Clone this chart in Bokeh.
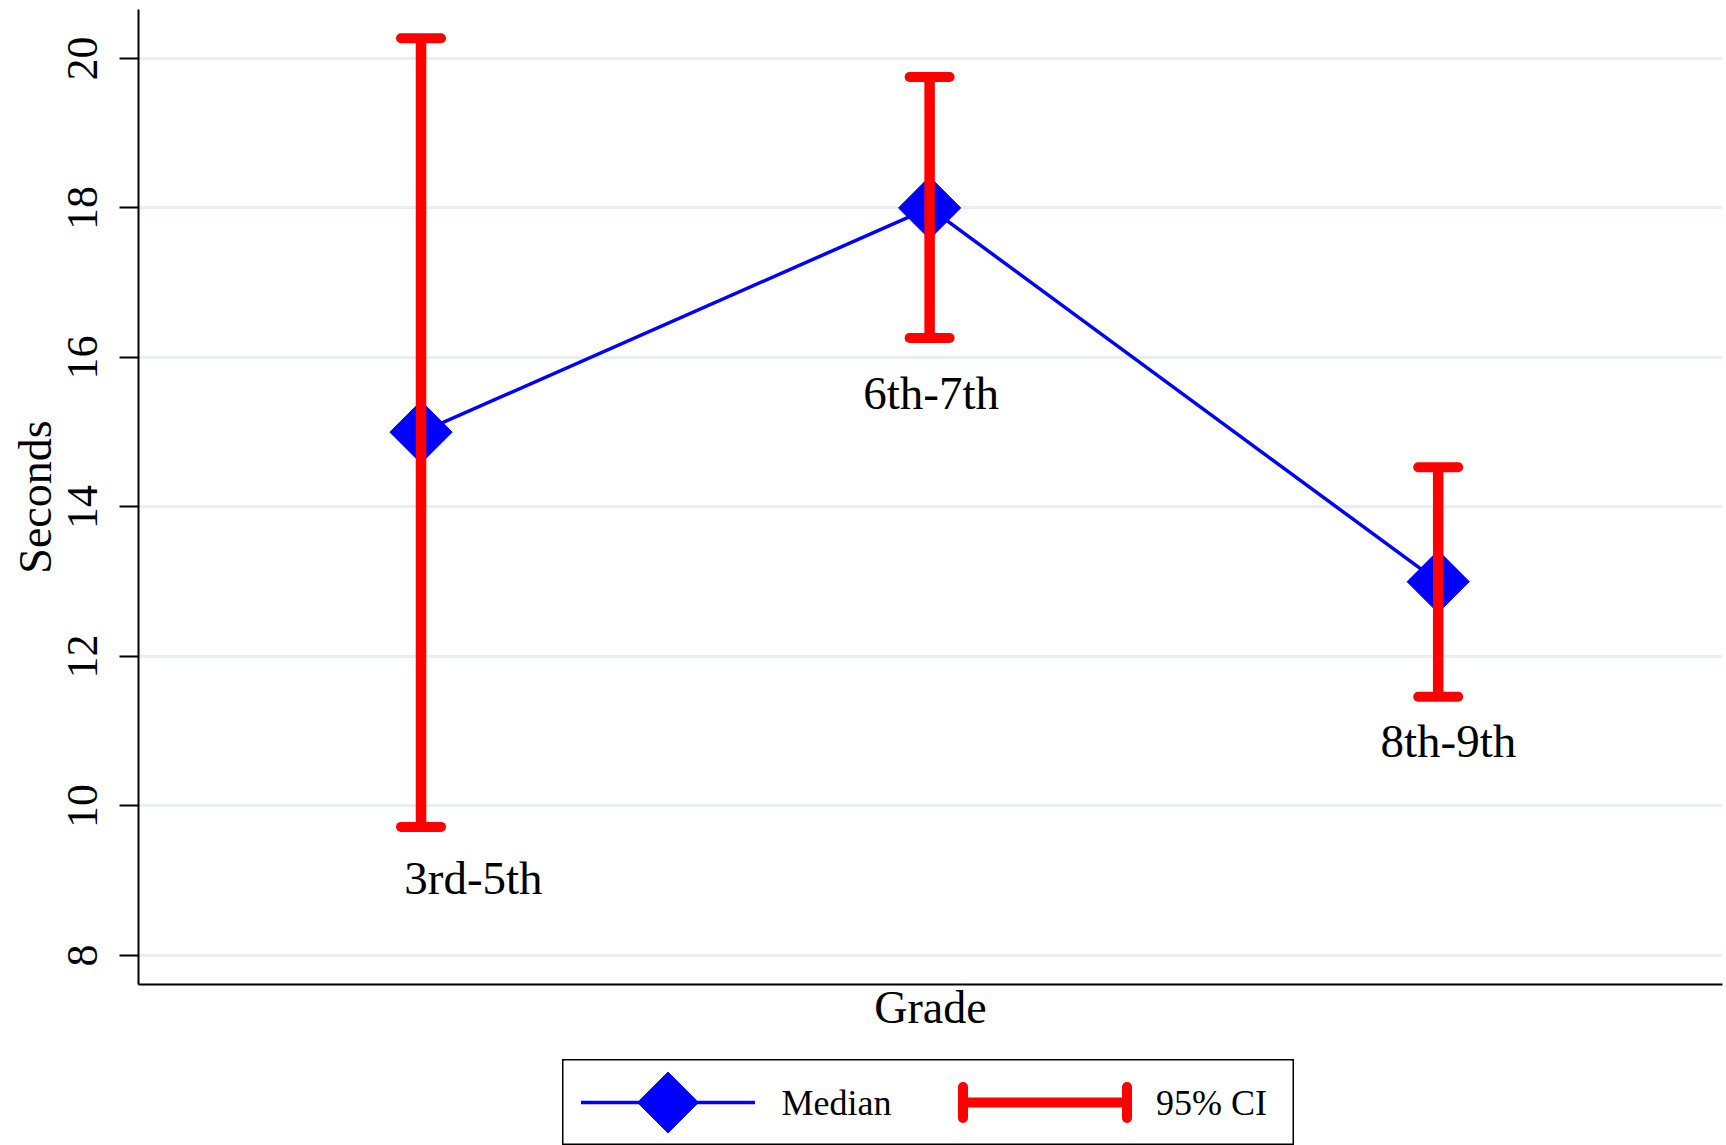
import numpy as np
from bokeh.plotting import figure
from bokeh.models import ColumnDataSource, FixedTicker, Whisker, TeeHead, Spacer
from bokeh.layouts import column, row
from bokeh.core.properties import value
from bokeh.embed import file_html
from bokeh.resources import INLINE

# ---- data ----
grades = ["3rd-5th", "6th-7th", "8th-9th"]
grade_pos = [1, 2, 3]
median = [15.0, 18.0, 13.0]
ci_low = [9.72, 16.26, 11.46]
ci_high = [20.27, 19.75, 14.53]
label_x = [1.103, 2.003, 3.02]
label_y = [9.03, 15.53, 10.87]
y_ticks = [8, 10, 12, 14, 16, 18, 20]
legend_labels = ["Median", "95% CI"]
x_title = "Grade"
y_title = "Seconds"

FONT = "Liberation Serif"
BLUE = "#0000FF"
RED = "#FF0000"

src = ColumnDataSource(dict(x=grade_pos, med=median, lo=ci_low, hi=ci_high,
                            lx=label_x, ly=label_y, txt=grades))

p = figure(width=1726, height=1059, x_range=(0.4445, 3.559), y_range=(7.612, 20.654),
           output_backend="svg", toolbar_location=None,
           min_border_left=138, min_border_right=4, min_border_top=9, min_border_bottom=75)
p.outline_line_color = None
p.background_fill_color = "white"
p.border_fill_color = "white"

p.xgrid.visible = False
p.ygrid.ticker = FixedTicker(ticks=y_ticks)
p.ygrid.grid_line_color = "#E8EFF2"
p.ygrid.grid_line_width = 3

ya = p.yaxis[0]
ya.ticker = FixedTicker(ticks=y_ticks)
ya.axis_label = y_title
ya.axis_label_text_font = FONT
ya.axis_label_text_font_size = "46px"
ya.axis_label_text_font_style = "normal"
ya.axis_label_text_color = "black"
ya.axis_label_standoff = 5
ya.major_label_orientation = "vertical"
ya.major_label_text_font = FONT
ya.major_label_text_font_size = "44px"
ya.major_label_text_color = "black"
ya.major_label_standoff = 22
ya.major_tick_out = 19
ya.major_tick_in = 0
ya.major_tick_line_width = 2
ya.minor_tick_out = 0
ya.minor_tick_in = 0
ya.axis_line_width = 2
ya.axis_line_color = "black"

xa = p.xaxis[0]
xa.ticker = FixedTicker(ticks=[])
xa.major_label_text_font_size = "0px"
xa.major_tick_out = 0
xa.major_tick_in = 0
xa.minor_tick_out = 0
xa.minor_tick_in = 0
xa.axis_line_width = 2
xa.axis_line_color = "black"
xa.axis_label = x_title
xa.axis_label_text_font = FONT
xa.axis_label_text_font_size = "46px"
xa.axis_label_text_font_style = "normal"
xa.axis_label_text_color = "black"
xa.axis_label_standoff = -3

p.line(x="x", y="med", source=src, line_color=BLUE, line_width=3.5)
p.scatter(x="x", y="med", source=src, marker="square", angle=np.pi / 4, size=44,
          fill_color=BLUE, line_color=BLUE, line_width=1)

wh = Whisker(source=src, base="x", lower="lo", upper="hi", dimension="height",
             line_color=RED, line_width=10.5, level="overlay",
             upper_head=TeeHead(size=40, line_color=RED, line_width=10, line_cap="round"),
             lower_head=TeeHead(size=40, line_color=RED, line_width=10, line_cap="round"))
p.add_layout(wh)

p.text(x="lx", y="ly", text="txt", source=src, text_font=value(FONT),
       text_font_size="47px", text_align="center", text_baseline="alphabetic",
       text_color="black")

# ---- legend (drawn as its own small panel) ----
lg = figure(width=732, height=86, x_range=(0, 732), y_range=(0, 86),
            output_backend="svg", toolbar_location=None, min_border=0,
            x_axis_location=None, y_axis_location=None)
lg.grid.visible = False
lg.outline_line_color = "black"
lg.outline_line_width = 2
lg.background_fill_color = "white"
lg.border_fill_color = "white"

lg.line([18.5, 192.5], [43, 43], line_color=BLUE, line_width=3.5)
lg.scatter([105.5], [43], marker="square", angle=np.pi / 4, size=43,
           fill_color=BLUE, line_color=BLUE)
lg.text([219], [43], text=[legend_labels[0]], text_font=value(FONT),
        text_font_size="36px", text_baseline="alphabetic", text_color="black")
lg.segment(x0=[400.5], y0=[43], x1=[564.5], y1=[43], line_color=RED, line_width=10)
lg.segment(x0=[400.5, 564.5], y0=[27.5, 27.5], x1=[400.5, 564.5], y1=[58.5, 58.5],
           line_color=RED, line_width=10, line_cap="round")
lg.text([593.5], [43], text=[legend_labels[1]], text_font=value(FONT),
        text_font_size="36px", text_baseline="alphabetic", text_color="black")

layout = column(p, row(Spacer(width=562, height=86), lg))

open("out.html", "w").write(file_html(layout, INLINE))
